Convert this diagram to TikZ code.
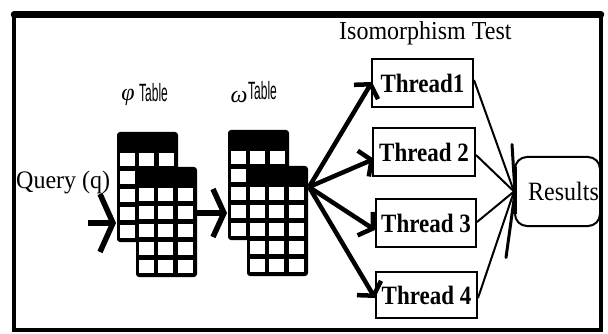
\documentclass[tikz,border=0pt]{standalone}
\usepackage{fontspec}
\usepackage{graphicx}
\setmainfont{Liberation Serif}
\newfontfamily\tablefont{Liberation Sans}
\usetikzlibrary{arrows.meta,calc}
\begin{document}
\begin{tikzpicture}[x=1pt,y=-1pt,
  every node/.style={inner sep=0pt},
  bigtxt/.style={font=\fontsize{24}{28}\selectfont},
  threadbox/.style={draw, line width=2pt, minimum width=101pt, minimum height=48pt,
    font=\fontsize{23}{27}\selectfont\bfseries},
  resbox/.style={draw, line width=2pt, rounded corners=12pt, minimum width=85pt,
    minimum height=69pt, font=\fontsize{24}{28}\selectfont},
  fanarrow/.style={line width=4.5pt, -{Straight Barb[length=9pt,width=28pt]}},
  joinline/.style={line width=2pt},
  tablelabel/.style={font=\tablefont\fontsize{25}{29}\selectfont},
  greeklabel/.style={font=\fontsize{24}{28}\selectfont\itshape},
  dbtable/.pic={
    \fill[black, rounded corners=3pt] (0,0) rectangle (61,110);
    \foreach \i in {0,...,4}
      \foreach \j in {0,1,2}
        \fill[white] (2.5+19.5*\j, 21+18*\i) rectangle ++(15,13);
  }
]
\useasboundingbox (0,0) rectangle (608,334);
\fill[white] (0,0) rectangle (608,334);

% frame
\draw[line width=3.5pt] (14,14) rectangle (601,330);
\draw[line width=6.5pt, line cap=round] (14,14.5) -- (601,14.5);

% title
\node[anchor=base west, bigtxt] (title) at (339,40) {\scalebox{1}[1.08]{Isomorphism Test}};

% tables
\pic at (117,132) {dbtable};
\pic at (136,167) {dbtable};
\pic at (228,130) {dbtable};
\pic at (247,166) {dbtable};

% table labels
\node[anchor=base, greeklabel] (phil) at (128,101) {φ};
\node[anchor=base west, tablelabel] (phit) at (139,102) {\scalebox{0.48}[1]{Table}};
\node[anchor=base, greeklabel] (oml) at (239,103) {ω};
\node[anchor=base west, tablelabel] (omt) at (248,100) {\scalebox{0.48}[1]{Table}};

% query
\node[anchor=base west, bigtxt] (query) at (16,189) {\scalebox{1}[1.05]{Query (q)}};
\coordinate (qs) at (88,223);
\coordinate (phiIn) at (116,223);
\draw[line width=5.5pt, -{Straight Barb[length=13pt,width=58pt]}] (qs) -- (phiIn);

\coordinate (phiOut) at (197,213);
\coordinate (omIn) at (227,213);
\draw[line width=5.5pt, -{Straight Barb[length=11pt,width=48pt]}] (phiOut) -- (omIn);

\coordinate (omOut) at (309,187);

% threads
\node[threadbox] (t1) at (422.5,83) {\scalebox{1}[1.15]{Thread1}};
\node[threadbox, minimum width=102pt] (t2) at (424,152) {\scalebox{1}[1.15]{Thread 2}};
\node[threadbox, minimum width=100pt] (t3) at (426,223) {\scalebox{1}[1.15]{Thread 3}};
\node[threadbox, minimum height=46pt] (t4) at (426.5,295) {\scalebox{1}[1.15]{Thread 4}};

% results
\node[resbox] (res) at (557.5,191.5) {\hspace{12pt}\scalebox{1}[1.1]{Results}};

% fan arrows
\draw[fanarrow] (omOut) -- ($(t1.west)+(1,-1)$);
\draw[fanarrow] (omOut) -- ($(t2.west)+(2,7)$);
\draw[fanarrow] (omOut) -- ($(t3.west)+(0,7)$);
\draw[fanarrow] (omOut) -- ($(t4.west)+(0,3)$);

% join lines
\draw[joinline] ($(t1.east)+(0,-3)$) -- (res.west);
\draw[joinline] ($(t2.east)+(0,3)$) -- (res.west);
\draw[joinline] ($(t3.east)+(0,-1)$) -- (res.west);
\draw[joinline] ($(t4.east)+(0,3)$) -- (res.west);
\draw[line width=3pt, line cap=round, line join=miter]
  ($(res.west)+(-2,-47)$) -- ($(res.west)+(1,1)$) -- ($(res.west)+(-8,66)$);
\draw[line width=3.5pt] ($(res.west)+(1,-24)$) -- ($(res.west)+(1,22)$);
\end{tikzpicture}
\end{document}
